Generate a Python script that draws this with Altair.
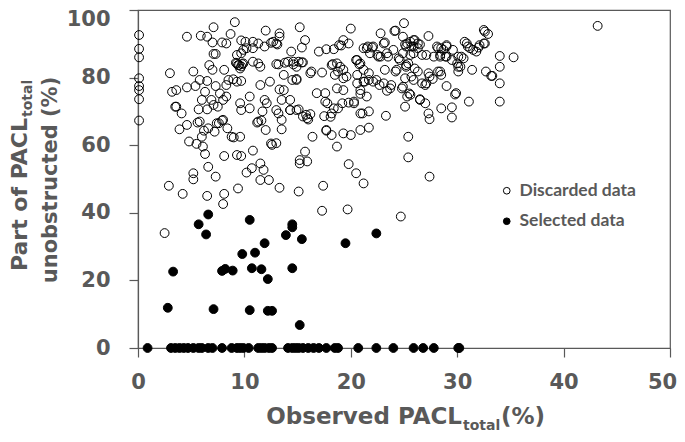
import altair as alt
import pandas as pd

# Discarded data (open circles): x = observed PACL_total (%), y = part unobstructed (%)
disc_x = [0.1,0.1,0.1,0.1,0.1,0.1,0.1,0.1,
 4.6,5.9,6.5,7.1,7.0,7.9,8.3,8.7,9.1,9.7,10.1,10.2,10.8,10.8,11.3,11.9,12.0,12.5,13.0,13.3,13.3,14.4,15.2,15.7,15.4,17.0,17.7,18.4,19.3,19.1,19.8,20.0,21.2,21.6,22.1,22.8,23.1,24.2,25.0,25.3,
 7.1,7.3,9.3,9.7,9.9,10.8,11.3,11.5,9.4,9.6,9.9,9.2,6.7,7.0,8.1,3.0,5.2,
 5.8,6.5,7.3,8.3,8.5,8.96,9.3,9.7,5.4,4.6,3.6,3.2,6.3,7.7,8.3,8.0,6.0,6.9,7.1,7.5,3.6,4.1,5.7,6.5,5.8,6.2,6.6,6.0,3.9,4.6,7.2,7.6,8.0,8.4,4.8,5.5,6.1,6.3,8.8,9.0,9.6,8.1,9.3,9.7,6.6,7.3,5.2,5.2,2.9,4.2,6.5,8.1,9.4,10.8,10.2,10.7,11.5,11.8,11.5,12.3,13.3,15.1,17.4,15.2,15.2,15.9,15.7,12.6,13.0,16.4,18.7,19.8,20.5,21.2,23.3,25.4,25.4,12.0,11.3,11.7,12.1,11.9,13.5,13.0,13.5,13.3,13.7,14.3,14.9,15.5,15.9,16.2,17.5,18.1,18.2,17.7,18.2,19.3,20.0,20.9,21.7,20.9,21.1,21.7,19.2,19.8,20.3,20.3,18.4,18.8,17.6,17.8,16.8,17.6,18.7,19.3,20.9,21.5,10.5,10.5,9.6,9.7,14.3,14.5,14.9,13.7,12.4,11.5,16.3,17.3,13.0,13.8,14.1,14.6,14.9,15.1,15.5,18.3,18.7,19.0,19.3,19.6,19.3,18.8,20.6,20.9,21.2,21.7,21.7,22.4,23.1,23.7,23.4,21.8,22.6,23.4,24.0,24.6,25.4,24.9,25.3,25.1,23.2,24.3,20.6,21.2,
 13.1,12.7,18.9,13.2,14.6,15.4,14.9,16.2,18.2,18.5,20.5,20.8,20.6,21.5,22.0,22.5,23.2,24.1,25.1,22.8,23.5,24.5,21.3,22.1,22.7,23.8,24.2,20.9,24.8,9.5,9.7,9.3,9.8,
 24.9,25.6,26.0,26.3,25.2,25.9,27.3,24.9,25.9,26.7,27.1,27.8,28.2,28.7,29.0,29.6,28.4,29.0,29.5,30.1,30.4,30.9,31.2,31.5,32.1,32.6,32.9,32.6,30.1,30.1,31.4,32.7,33.2,34.0,35.3,34.0,34.0,34.0,31.1,29.0,29.9,28.5,29.5,29.5,27.3,27.4,27.0,26.5,25.6,25.2,26.0,26.3,25.1,25.9,26.7,27.1,27.4,27.7,28.4,27.4,43.2,
 25.9,26.5,25.7,26.3,25.6,28.1,28.5,29.0,28.4,28.9,30.6,30.0,30.3,30.7,31.0,31.8,32.0,32.5,32.5,33.3,25.2,25.7,27.3,27.0,28.2,28.5,29.8,25.5,26.5,
 2.5,8.0,17.3,19.7,24.7,
 13.5,13.2,14.3,15.1,15.8,16.0,17.7,3.5,5.6,7.4,7.9,11.2,11.6,12.5]
disc_y = [92.6,88.5,86.0,79.8,77.5,76.3,73.6,67.3,
 92.1,92.4,92.1,94.9,90.4,90.4,90.1,92.9,96.4,91.0,90.6,88.7,90.6,88.7,90.1,89.2,93.9,90.3,90.1,93.1,92.1,87.7,94.9,91.1,88.9,87.7,88.4,88.4,91.1,89.5,90.1,94.5,88.7,89.2,89.2,93.1,90.1,93.9,96.1,90.1,
 87.0,87.0,86.7,87.2,88.2,84.7,84.2,83.2,83.7,82.7,84.2,84.4,83.7,82.3,82.3,81.3,81.8,
 79.3,79.0,77.5,77.8,79.3,79.5,78.8,79.0,77.5,77.1,76.3,75.8,75.8,75.3,74.4,73.4,73.4,73.4,71.9,71.4,71.4,69.4,70.6,70.6,67.0,64.3,65.0,62.5,64.7,66.0,64.0,66.5,67.5,65.0,61.1,60.4,59.6,57.4,62.5,62.3,62.5,56.8,57.1,56.8,53.6,50.7,51.7,49.9,48.0,45.6,45.0,45.6,47.2,58.4,51.9,53.2,54.6,52.7,49.7,49.7,47.4,46.3,48.0,55.6,54.6,55.2,58.1,60.1,60.6,62.5,59.6,54.4,51.7,48.7,68.7,62.5,56.4,64.5,67.0,70.0,72.4,73.4,67.5,70.4,73.4,76.5,76.3,70.4,70.4,68.5,68.0,69.2,68.6,68.4,69.4,64.5,63.0,63.5,63.0,64.5,65.2,69.4,69.4,70.0,72.4,72.6,72.4,72.9,70.9,70.9,72.9,72.4,75.4,75.4,76.8,76.3,75.2,74.4,74.4,70.9,72.4,70.4,73.4,79.3,79.3,80.8,78.8,77.8,81.8,81.5,84.0,84.4,84.7,84.7,83.2,84.7,84.5,84.0,84.2,83.2,82.3,80.3,79.8,81.8,85.2,84.2,82.3,81.3,79.3,79.3,78.3,76.8,76.1,87.2,86.2,87.2,88.2,85.2,84.2,77.3,74.4,71.4,82.3,82.3,78.3,78.8,
 89.8,90.6,89.6,83.9,83.9,84.5,79.6,81.3,83.7,80.8,85.2,83.9,80.8,88.7,88.9,86.7,90.4,93.8,89.8,86.2,86.2,85.7,78.8,78.8,77.8,77.8,81.8,76.3,76.8,83.7,83.3,84.2,84.0,
 92.1,90.6,91.1,90.1,89.2,89.2,92.3,87.2,87.2,86.7,86.7,86.2,88.7,88.2,89.2,88.2,86.2,86.2,85.2,86.2,86.2,90.1,88.7,88.2,89.6,93.6,92.9,90.1,83.2,81.8,82.3,81.8,80.5,86.4,86.0,83.2,78.3,72.9,72.9,77.5,75.4,70.9,71.2,68.2,69.4,67.7,72.4,73.6,74.9,83.2,82.7,81.8,79.8,79.3,78.3,78.3,80.3,79.6,81.8,50.7,95.3,
 91.1,89.8,89.2,88.7,86.7,89.2,88.7,89.6,86.7,86.2,85.7,84.2,83.2,90.6,89.2,87.7,88.9,90.1,94.1,80.5,83.7,80.3,81.3,77.8,81.8,80.8,75.0,75.3,73.4,
 34.0,42.6,40.6,41.0,38.9,
 64.7,69.4,70.4,70.6,69.0,67.6,64.3,71.4,66.7,66.5,67.3,66.7,67.3,60.5]

# Selected data (filled circles)
sel_x = [6.6,5.7,6.4,10.5,14.5,14.5,13.9,15.4,11.9,19.5,22.4,9.8,11.0,3.3,7.9,8.2,8.9,10.7,11.6,12.2,14.5,2.8,7.1,10.5,12.2,12.6,15.2,
 0.9,3.1,3.5,3.9,4.3,4.7,5.2,5.7,6.0,6.6,7.0,7.9,8.8,9.3,9.6,9.9,10.4,11.3,11.6,11.9,12.3,12.6,14.1,14.5,14.8,15.1,15.5,16.0,16.5,17.0,17.7,18.5,18.8,20.7,22.4,24.0,25.9,26.8,27.8,30.1,30.2]
sel_y = [39.5,36.6,33.6,37.9,36.6,35.7,33.4,32.2,31.0,31.0,33.9,27.8,28.2,22.6,22.8,23.4,22.9,23.6,23.3,20.4,23.6,11.9,11.5,11.2,11.0,11.0,6.8,
 0,0,0,0,0,0,0,0,0,0,0,0,0,0,0,0,0,0,0,0,0,0,0,0,0,0,0,0,0,0,0,0,0,0,0,0,0,0,0,0,0]

series_names = ["Discarded data", "Selected data"]
x_ticks = [0, 10, 20, 30, 40, 50]
y_ticks = [0, 20, 40, 60, 80, 100]

# Axis title pieces (main text, subscript, trailing text)
x_title = ["Observed PACL", "total", "(%)"]
y_title = ["Part of PACL", "total", "unobstructed (%)"]

df = pd.concat([
    pd.DataFrame({"x": disc_x, "y": disc_y, "type": series_names[0]}),
    pd.DataFrame({"x": sel_x, "y": sel_y, "type": series_names[1]}),
], ignore_index=True)

GRAY = "#595959"
AX_FONT = "DejaVu Sans"
LEG_FONT = "Lato"

leg = dict(title=None, orient="none", legendX=360, legendY=172,
           symbolSize=45, symbolStrokeWidth=1, labelFontSize=17.5,
           labelFont=LEG_FONT, labelFontWeight="bold", labelColor=GRAY,
           rowPadding=11.5, labelOffset=4, padding=0)

points = alt.Chart(df).mark_point(shape="circle", size=78, strokeWidth=1, opacity=1,
                                  filled=True, clip=False).encode(
    x=alt.X("x:Q", scale=alt.Scale(domain=[0, 50], nice=False, zero=False),
            axis=alt.Axis(values=x_ticks, title=None, grid=False, labelFlush=False,
                          tickSize=9, labelPadding=14,
                          labelOffset={"condition": {"test": "datum.value == 50", "value": -8},
                                       "value": 0})),
    y=alt.Y("y:Q", scale=alt.Scale(domain=[0, 100], nice=False, zero=False),
            axis=alt.Axis(values=y_ticks, title=None, grid=False, labelFlush=False,
                          tickSize=9, labelPadding=19,
                          labelOffset={"condition": {"test": "datum.value == 100", "value": 9},
                                       "value": 0})),
    fill=alt.Fill("type:N", scale=alt.Scale(domain=series_names, range=["transparent", "black"]),
                  legend=alt.Legend(**leg)),
    stroke=alt.Stroke("type:N", scale=alt.Scale(domain=series_names, range=["black", "black"]),
                      legend=alt.Legend(**leg)),
)


def label(txt, x, y, size, align, angle=0):
    return alt.Chart(pd.DataFrame({"t": [txt]})).mark_text(
        font=AX_FONT, fontWeight="bold", fontSize=size, color=GRAY,
        align=align, baseline="alphabetic", angle=angle,
    ).encode(text="t:N", x=alt.value(x), y=alt.value(y))


X1 = 324
titles = [
    label(x_title[0], X1, 414, 23, "right"),
    label(x_title[1], X1 + 1, 420, 14, "left"),
    label(x_title[2], X1 + 39, 414, 23, "left"),
    label(y_title[0], -111, 108, 22, "right", 270),
    label(y_title[1], -106, 107, 14, "left", 270),
    label(y_title[2], -81, 170, 21, "center", 270),
]

chart = alt.layer(points, *titles).properties(
    width=532, height=338,
    autosize=alt.AutoSizeParams(type="none"),
    padding={"left": 130, "top": 2, "right": 7, "bottom": 84},
    background="white",
).configure_view(
    stroke=GRAY, strokeWidth=1.2
).configure_axis(
    domainColor=GRAY, tickColor=GRAY, domainWidth=1.2, tickWidth=1.2,
    labelFont=AX_FONT, labelFontSize=21, labelFontWeight="bold", labelColor=GRAY,
)

chart.save("out.html", embed_options={"renderer": "svg", "actions": False})
